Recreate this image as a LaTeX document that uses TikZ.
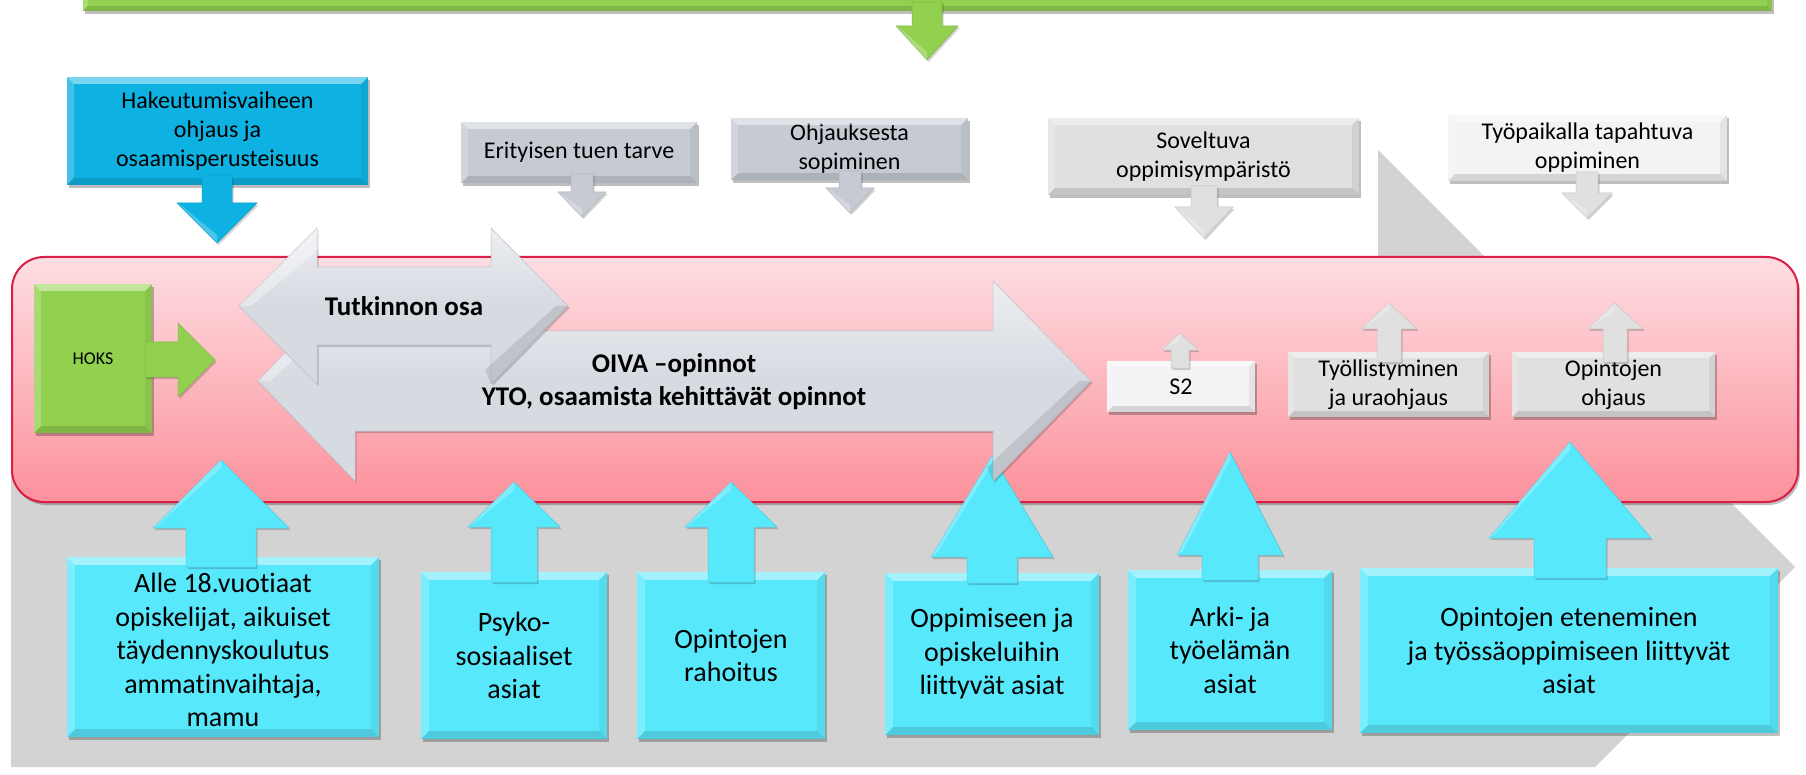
\documentclass[tikz,border=0pt]{standalone}
\usepackage{fontspec}
\setmainfont{Carlito}[Ligatures=NoCommon]
\usetikzlibrary{shadows}
\definecolor{bggray}{RGB}{211,211,211}
\definecolor{grn}{RGB}{146,208,80}
\definecolor{cyd}{RGB}{14,178,226}
\definecolor{cyl}{RGB}{88,232,252}
\definecolor{slate}{RGB}{198,203,211}
\definecolor{lgray}{RGB}{224,224,224}
\definecolor{wgray}{RGB}{243,243,245}
\definecolor{agray}{RGB}{214,218,225}
\definecolor{redb}{RGB}{218,30,70}
\definecolor{pinkt}{RGB}{253,222,226}
\definecolor{pinkb}{RGB}{252,145,156}
\tikzset{
  shd/.style={drop shadow={opacity=0.25, shadow xshift=2pt, shadow yshift=-3pt, fill=black}},
  lshd/.style={drop shadow={opacity=0.18, shadow xshift=1.5pt, shadow yshift=-2pt, fill=black}},
  bx/.style={rectangle, inner sep=0pt, align=center, shd, font=\fontsize{24}{29}\selectfont},
  bigbx/.style={bx, font=\fontsize{28}{33.5}\selectfont},
  btxt/.style={inner sep=0pt, align=center, font=\fontsize{28}{33.5}\selectfont},
  arr/.style={lshd, draw=#1!88!black, line width=0.5pt, fill=#1},
  boldlbl/.style={inner sep=0pt, align=center, font=\bfseries\fontsize{27}{33}\selectfont},
}
% vertical block arrow: colour, cx, tip y, head base y, head half width, shaft half width, shaft end y
\newcommand\varrow[7]{%
  \path[arr=#1] (#2,#3) -- ({#2+#5},#4) -- ({#2+#6},#4) -- ({#2+#6},#7) -- ({#2-#6},#7) -- ({#2-#6},#4) -- ({#2-#5},#4) -- cycle;
  \fill[white,opacity=0.25] (#2,#3) -- ({#2-#5},#4) -- ({#2-#5+6},{#4+(#3>#4?4:-4)}) -- (#2,{#3+(#3>#4?-8:8)}) -- cycle;}
% horizontal double block arrow: colour, cy, left tip, left base, right base, right tip, head half height, shaft half height
\newcommand\harrow[8]{%
  \path[arr=#1, top color=#1!45!white, bottom color=#1, middle color=#1] (#3,#2) -- (#4,{#2-#7}) -- (#4,{#2-#8}) -- (#5,{#2-#8}) -- (#5,{#2-#7}) -- (#6,#2) -- (#5,{#2+#7}) -- (#5,{#2+#8}) -- (#4,{#2+#8}) -- (#4,{#2+#7}) -- cycle;
  \fill[white,opacity=0.35] (#3,#2) -- (#4,{#2-#7}) -- ({#4+8},{#2-#7+16}) -- ({#3+12},#2) -- cycle;
  \fill[black,opacity=0.10] (#6,#2) -- (#5,{#2+#7}) -- ({#5-6},{#2+#7-14}) -- ({#6-12},#2) -- cycle;}
% bevel on a box node
\newcommand\bev[2][7]{%
  \fill[white,opacity=0.45] (#2.north west) -- (#2.north east) -- ([xshift=-#1pt,yshift=-#1pt]#2.north east) -- ([xshift=#1pt,yshift=-#1pt]#2.north west) -- cycle;
  \fill[white,opacity=0.22] (#2.north west) -- ([xshift=#1pt,yshift=-#1pt]#2.north west) -- ([xshift=#1pt,yshift=#1pt]#2.south west) -- (#2.south west) -- cycle;
  \fill[black,opacity=0.12] (#2.south west) -- ([xshift=#1pt,yshift=#1pt]#2.south west) -- ([xshift=-#1pt,yshift=#1pt]#2.south east) -- (#2.south east) -- cycle;
  \fill[black,opacity=0.06] (#2.north east) -- (#2.south east) -- ([xshift=-#1pt,yshift=#1pt]#2.south east) -- ([xshift=-#1pt,yshift=-#1pt]#2.north east) -- cycle;}
\begin{document}
\begin{tikzpicture}[x=1pt,y=-1pt]
\useasboundingbox (0,0) rectangle (1806,775);
\fill[white] (0,0) rectangle (1806,775);
% grey chevron behind
\fill[bggray] (11,300) -- (1378,300) -- (1378,150) -- (1795,567) -- (1595,767) -- (11,767) -- cycle;
% green top bar and arrow
\node[bx, fill=grn, minimum width=1689pt, minimum height=40pt] (goal) at (927.5,-9) {};
\bev[5]{goal}
\varrow{grn}{927}{60}{26}{31}{15}{2}
% top cyan box
\node[bx, fill=cyd, minimum width=301pt, minimum height=108pt] (hak) at (217.5,131) {Hakeutumisvaiheen\\ohjaus ja\\osaamisperusteisuus};
\bev{hak}
\varrow{cyd}{217}{243}{203}{40}{15}{176}
% top grey boxes
\node[bx, fill=slate, minimum width=236pt, minimum height=61pt] (erit) at (579,152.5) {Erityisen tuen tarve};
\bev{erit}
\varrow{slate}{582}{217}{192}{24}{11}{174}
\node[bx, fill=slate, minimum width=237pt, minimum height=62pt] (ohj) at (849.5,149) {Ohjauksesta\\sopiminen};
\bev{ohj}
\varrow{slate}{850}{213}{188}{24}{11}{171}
\node[bx, fill=lgray, minimum width=311pt, minimum height=77pt] (sov) at (1203.5,156.5) {Soveltuva\\oppimisympäristö};
\bev{sov}
\varrow{lgray}{1204}{238}{207}{29}{13}{186}
\node[bx, fill=wgray, minimum width=279pt, minimum height=66pt] (tyop) at (1587.5,148) {Työpaikalla tapahtuva\\oppiminen};
\bev{tyop}
\varrow{lgray}{1587}{218}{193}{25}{11}{172}
% red stage box
\node[draw=redb, line width=2pt, rounded corners=32pt, top color=pinkt, bottom color=pinkb, minimum width=1786pt, minimum height=245pt, shd] (stage) at (905,379.5) {};
% HOKS
\node[bx, fill=grn, minimum width=118pt, minimum height=149pt, font=\fontsize{18}{22}\selectfont] (hoks) at (93,358.5) {HOKS};
\bev{hoks}
\path[arr=grn] (145,342) -- (178,342) -- (178,323) -- (215,360) -- (178,397) -- (178,377) -- (145,377) -- cycle;
% small boxes in stage
\node[bx, fill=wgray, minimum width=148pt, minimum height=51pt] (s2) at (1181,386.5) {S2};
\bev[6]{s2}
\varrow{lgray}{1180}{333}{350}{18}{9}{368}
\node[bx, fill=lgray, minimum width=201pt, minimum height=65pt] (tyol) at (1388.5,384.5) {Työllistyminen\\ja uraohjaus};
\bev[6]{tyol}
\varrow{lgray}{1389}{303}{329}{28}{12}{362}
\node[bx, fill=lgray, minimum width=203pt, minimum height=65pt] (opoh) at (1613.5,384.5) {Opintojen\\ohjaus};
\bev[6]{opoh}
\varrow{lgray}{1615}{303}{329}{28}{12}{362}
% bottom cyan boxes and arrows
\node[bigbx, fill=cyl, minimum width=312pt, minimum height=180pt] (b1) at (223,647) {};
\node[btxt] (b1t) at (223,650) {Alle 18.vuotiaat\\opiskelijat, aikuiset\\täydennyskoulutus\\ammatinvaihtaja,\\mamu};
\bev[8]{b1}
\varrow{cyl}{221}{460}{528}{68}{35}{567}
\node[bigbx, fill=cyl, minimum width=186pt, minimum height=167pt] (b2) at (514,655.5) {Psyko-\\sosiaaliset\\asiat};
\bev[8]{b2}
\varrow{cyl}{514}{482}{527}{46}{23}{582}
\node[bigbx, fill=cyl, minimum width=188pt, minimum height=167pt] (b3) at (731,655.5) {Opintojen\\rahoitus};
\bev[8]{b3}
\varrow{cyl}{731}{482}{527}{46}{23}{582}
\node[bigbx, fill=cyl, minimum width=214pt, minimum height=162pt] (b4) at (992,654) {Oppimiseen ja\\opiskeluihin\\liittyvät asiat};
\bev[8]{b4}
\varrow{cyl}{992}{456}{557}{61}{25}{583}
\node[bigbx, fill=cyl, minimum width=204pt, minimum height=160pt] (b5) at (1230,650) {Arki- ja\\työelämän\\asiat};
\bev[8]{b5}
\varrow{cyl}{1230}{452}{555}{53}{28}{580}
\node[bigbx, fill=cyl, minimum width=418pt, minimum height=165pt] (b6) at (1569,650.5) {Opintojen eteneminen\\ja työssäoppimiseen liittyvät\\asiat};
\bev[8]{b6}
\varrow{cyl}{1570}{442}{538}{81}{36}{578}
% OIVA double arrow
\harrow{agray}{381}{258}{355}{993}{1091}{100}{50}
\node[boldlbl] (oiva) at (674,382) {OIVA –opinnot\\YTO, osaamista kehittävät opinnot};
% Tutkinnon osa double arrow
\harrow{agray}{306}{239}{317}{491}{568}{78}{39}
\node[boldlbl] (tutk) at (404,306) {Tutkinnon osa};
\end{tikzpicture}
\end{document}
